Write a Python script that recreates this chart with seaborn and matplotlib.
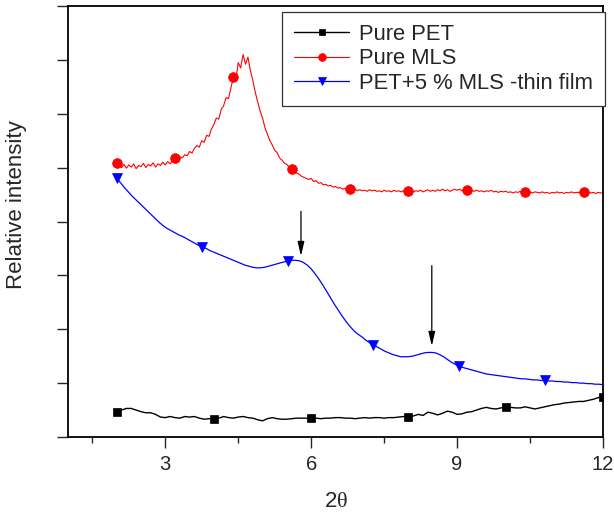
import numpy as np
import matplotlib
matplotlib.use("Agg")
import matplotlib.pyplot as plt
import seaborn as sns

# Pure PET (black squares), x = 2.0 ... 12.0 step 0.1
pet_x = np.linspace(2.0, 12.0, 101)
pet_y = [0.47, 0.50, 0.53, 0.53, 0.50, 0.47, 0.45, 0.45, 0.42, 0.37,
         0.36, 0.38, 0.36, 0.35, 0.38, 0.37, 0.38, 0.35, 0.33, 0.34,
         0.33, 0.35, 0.38, 0.36, 0.35, 0.37, 0.38, 0.36, 0.35, 0.32,
         0.30, 0.34, 0.36, 0.34, 0.33, 0.33, 0.34, 0.35, 0.35, 0.35,
         0.35, 0.35, 0.34, 0.35, 0.35, 0.36, 0.36, 0.35, 0.35, 0.34,
         0.35, 0.36, 0.35, 0.36, 0.36, 0.35, 0.36, 0.36, 0.37, 0.38,
         0.38, 0.39, 0.42, 0.40, 0.46, 0.44, 0.41, 0.44, 0.48, 0.46,
         0.42, 0.43, 0.46, 0.47, 0.50, 0.53, 0.55, 0.53, 0.52, 0.54,
         0.55, 0.55, 0.54, 0.54, 0.56, 0.54, 0.52, 0.54, 0.56, 0.58,
         0.60, 0.61, 0.63, 0.64, 0.65, 0.66, 0.66, 0.68, 0.70, 0.73,
         0.75]

# Pure MLS (red circles), x = 2.0 ... 12.0 step 0.05
mls_x = np.linspace(2.0, 12.0, 201)
mls_y = [5.09, 5.04, 5.00, 5.06, 4.99, 5.05, 5.01, 5.07, 4.98, 5.04,
         5.02, 5.08, 5.00, 5.06, 5.03, 5.09, 5.01, 5.07, 5.04, 5.10,
         5.05, 5.11, 5.07, 5.13, 5.17, 5.14, 5.20, 5.18, 5.24, 5.22,
         5.30, 5.27, 5.36, 5.41, 5.38, 5.50, 5.47, 5.60, 5.58, 5.72,
         5.80, 5.92, 5.90, 6.08, 6.15, 6.30, 6.28, 6.48, 6.68, 6.62,
         6.95, 6.85, 7.10, 6.92, 7.05, 6.80, 6.62, 6.40, 6.22, 6.05,
         5.92, 5.74, 5.62, 5.50, 5.42, 5.32, 5.28, 5.18, 5.14, 5.08,
         5.06, 5.00, 4.98, 4.95, 4.90, 4.88, 4.84, 4.82, 4.80, 4.78,
         4.80, 4.74, 4.76, 4.71, 4.72, 4.68, 4.69, 4.66, 4.67, 4.64,
         4.65, 4.62, 4.63, 4.60, 4.62, 4.60, 4.61, 4.58, 4.60, 4.57,
         4.59, 4.57, 4.58, 4.56, 4.59, 4.57, 4.58, 4.56, 4.57, 4.55,
         4.58, 4.56, 4.57, 4.55, 4.58, 4.56, 4.57, 4.55, 4.57, 4.56,
         4.56, 4.58, 4.55, 4.57, 4.56, 4.58, 4.55, 4.57, 4.59, 4.56,
         4.58, 4.56, 4.59, 4.57, 4.60, 4.57, 4.59, 4.56, 4.58, 4.60,
         4.58, 4.60, 4.57, 4.59, 4.59, 4.57, 4.58, 4.56, 4.58, 4.56,
         4.57, 4.55, 4.57, 4.56, 4.58, 4.55, 4.56, 4.54, 4.56, 4.55,
         4.56, 4.54, 4.55, 4.53, 4.55, 4.54, 4.56, 4.54, 4.55, 4.53,
         4.55, 4.53, 4.55, 4.54, 4.53, 4.55, 4.53, 4.54, 4.52, 4.54,
         4.53, 4.55, 4.53, 4.54, 4.52, 4.54, 4.53, 4.55, 4.53, 4.54,
         4.54, 4.53, 4.54, 4.52, 4.54, 4.53, 4.54, 4.52, 4.54, 4.53,
         4.53]

# PET + 5 % MLS thin film (blue triangles), x = 2.0 ... 12.0 step 0.08
film_x = np.linspace(2.0, 12.0, 126)
film_y = [4.80, 4.72, 4.63, 4.55, 4.47, 4.40, 4.33, 4.26, 4.19, 4.12,
          4.05, 3.98, 3.92, 3.87, 3.83, 3.79, 3.75, 3.72, 3.68, 3.64,
          3.60, 3.56, 3.53, 3.50, 3.46, 3.43, 3.40, 3.37, 3.34, 3.31,
          3.28, 3.25, 3.22, 3.19, 3.17, 3.15, 3.14, 3.14, 3.15, 3.17,
          3.19, 3.21, 3.23, 3.25, 3.26, 3.28, 3.28, 3.27, 3.24, 3.19,
          3.12, 3.03, 2.93, 2.82, 2.70, 2.58, 2.46, 2.35, 2.24, 2.14,
          2.05, 1.97, 1.91, 1.86, 1.80, 1.75, 1.71, 1.67, 1.63, 1.59,
          1.56, 1.53, 1.51, 1.49, 1.49, 1.49, 1.50, 1.52, 1.54, 1.56,
          1.57, 1.57, 1.56, 1.53, 1.49, 1.44, 1.39, 1.35, 1.32, 1.29,
          1.27, 1.25, 1.23, 1.21, 1.19, 1.17, 1.16, 1.15, 1.14, 1.13,
          1.12, 1.11, 1.10, 1.09, 1.08, 1.08, 1.07, 1.06, 1.06, 1.05,
          1.05, 1.04, 1.04, 1.03, 1.03, 1.02, 1.02, 1.01, 1.01, 1.00,
          1.00, 0.99, 0.99, 0.98, 0.98, 0.97]

# arrows marking the film peaks
arrow_x = [5.79, 8.48]
arrow_top = [4.19, 3.18]
arrow_tip = [3.36, 1.69]

sns.set_style("ticks")
plt.rcParams['font.family'] = ['Liberation Sans', 'DejaVu Sans']
plt.rcParams['mathtext.fontset'] = 'custom'
plt.rcParams['mathtext.it'] = 'Liberation Serif'
plt.rcParams['mathtext.rm'] = 'Liberation Serif'

fig = plt.figure(figsize=(6.14, 5.12), dpi=100)
ax = fig.add_axes([68 / 614, 1 - 437 / 512, 535 / 614, 431 / 512])

sns.lineplot(x=pet_x, y=pet_y, ax=ax, color='black', lw=1.0, marker='s',
             markersize=6, markevery=20, markeredgecolor='black',
             markeredgewidth=0.5, label='Pure PET')
sns.lineplot(x=mls_x, y=mls_y, ax=ax, color='#ff0000', lw=0.8, marker='o',
             markersize=7, markevery=24, markeredgecolor='#ff0000',
             markeredgewidth=0.5, label='Pure MLS')
sns.lineplot(x=film_x, y=film_y, ax=ax, color='#0000ff', lw=0.9, marker='v',
             markersize=7.5, markevery=22, markeredgecolor='#0000ff',
             markeredgewidth=0.5, label='PET+5 % MLS -thin film')

for xa, yt, yb in zip(arrow_x, arrow_top, arrow_tip):
    ax.annotate('', xy=(xa, yb), xytext=(xa, yt),
                arrowprops=dict(arrowstyle='-|>,head_length=0.85,head_width=0.2',
                                color='black', lw=0.9, shrinkA=0, shrinkB=0))

ax.set_xlim(1, 12)
ax.set_ylim(0, 8)
ax.set_xticks([3, 6, 9, 12])
ax.set_xticks([1.5, 4.5, 7.5, 10.5], minor=True)
ax.set_yticks(range(0, 9))
ax.set_yticklabels([])
ax.tick_params(axis='x', which='major', direction='out', length=8, width=1,
               labelsize=14.5, pad=5)
ax.tick_params(axis='x', which='minor', direction='out', length=4.5, width=1)
ax.tick_params(axis='y', direction='out', length=8, width=1)
for s in ax.spines.values():
    s.set_visible(True)
    s.set_linewidth(1.3)
    s.set_color('black')

ax.set_xlabel('2$\\theta$', fontsize=16, labelpad=12)
ax.set_ylabel('Relative intensity', fontsize=16)
ax.yaxis.set_label_coords(-0.077, 0.538)

leg = ax.legend(loc='upper right', bbox_to_anchor=(1.004, 0.986),
                borderaxespad=0, fontsize=15.8, frameon=True, fancybox=False,
                edgecolor='#333333', framealpha=1, handlelength=2.5,
                handletextpad=0.45, labelspacing=0.15, borderpad=0.55,
                markerscale=0.8)
leg.get_frame().set_linewidth(0.9)

fig.savefig('out.png', dpi=100)
